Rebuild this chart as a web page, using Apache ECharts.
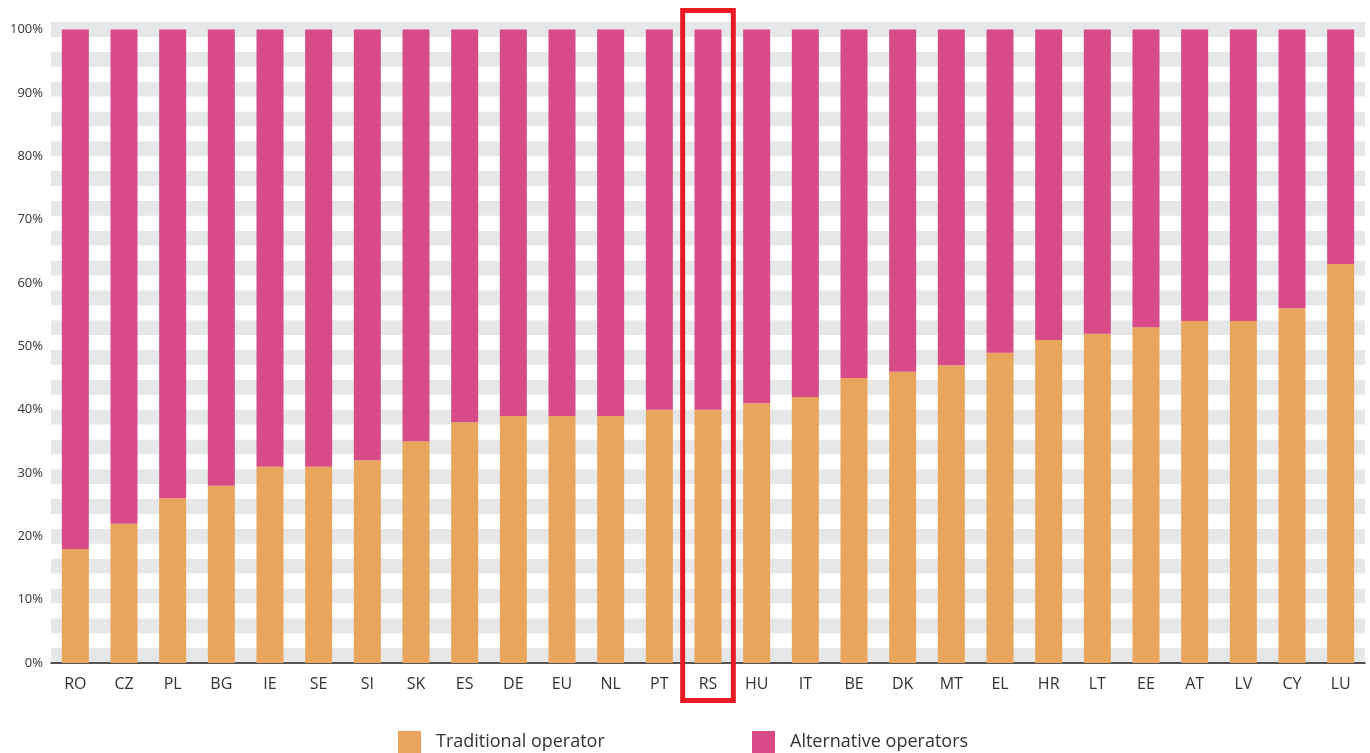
<!DOCTYPE html>
<html>
<head>
<meta charset="utf-8">
<title>Traditional vs alternative operators</title>
<script src="https://cdn.jsdelivr.net/npm/echarts@6/dist/echarts.min.js"></script>
<style>
  html, body { margin: 0; padding: 0; background: #ffffff; }
  #chart { width: 1370px; height: 753px; }
</style>
</head>
<body>
<div id="chart"></div>
<script>
// Countries, ordered by the traditional operator's share
const countries = ['RO', 'CZ', 'PL', 'BG', 'IE', 'SE', 'SI', 'SK', 'ES', 'DE', 'EU', 'NL', 'PT', 'RS',
  'HU', 'IT', 'BE', 'DK', 'MT', 'EL', 'HR', 'LT', 'EE', 'AT', 'LV', 'CY', 'LU'];

// Market share of the traditional operator (%)
const traditional = [18, 22, 26, 28, 31, 31, 32, 35, 38, 39, 39, 39, 40, 40,
  41, 42, 45, 46, 47, 49, 51, 52, 53, 54, 54, 56, 63];

// Market share of alternative operators (%)
const alternative = [82, 78, 74, 72, 69, 69, 68, 65, 62, 61, 61, 61, 60, 60,
  59, 58, 55, 54, 53, 51, 49, 48, 47, 46, 46, 44, 37];

// Value axis tick labels
const yTicks = [0, 10, 20, 30, 40, 50, 60, 70, 80, 90, 100];

const seriesNames = ['Traditional operator', 'Alternative operators'];
const highlighted = 'RS';

const ORANGE = '#e9a55c';
const PINK = '#d84b89';
const STRIPE = '#e6e7e9';
const FONT = 'Open Sans';

const chart = echarts.init(document.getElementById('chart'), null, { renderer: 'canvas' });

const legendText = { fontFamily: FONT, fontSize: 18, color: '#333333', padding: [0, 0, 0, 10] };

chart.setOption({
  animation: false,
  backgroundColor: '#ffffff',
  grid: { left: 51, right: 5, top: 22, bottom: 90, containLabel: false },
  legend: [
    {
      data: [seriesNames[0]], left: 398, top: 731, padding: 0,
      itemWidth: 23, itemHeight: 22, icon: 'rect',
      textStyle: legendText
    },
    {
      data: [seriesNames[1]], left: 752, top: 731, padding: 0,
      itemWidth: 23, itemHeight: 22, icon: 'rect',
      textStyle: legendText
    }
  ],
  xAxis: {
    type: 'category',
    data: countries,
    axisLine: { show: true, lineStyle: { color: '#231f20', width: 1.5 } },
    axisTick: { show: false },
    axisLabel: { fontFamily: FONT, fontSize: 16, color: '#333333', margin: 13 },
    splitLine: { show: false }
  },
  yAxis: [
    {
      type: 'value',
      min: 0,
      max: 101.2,
      interval: 10,
      axisLine: { show: false },
      axisTick: { show: false },
      splitLine: { show: false },
      axisLabel: {
        fontFamily: FONT, fontSize: 13, color: '#333333', margin: 8,
        formatter: v => (yTicks.indexOf(Math.round(v * 1000) / 1000) >= 0 ? v + '%' : '')
      }
    },
    {
      // background stripes
      type: 'value',
      min: 0,
      max: 43,
      interval: 1,
      position: 'right',
      axisLine: { show: false },
      axisTick: { show: false },
      axisLabel: { show: false },
      splitLine: { show: false },
      splitArea: { show: true, areaStyle: { color: [STRIPE, '#ffffff'] } }
    }
  ],
  series: [
    {
      name: seriesNames[0],
      type: 'bar',
      stack: 'share',
      barWidth: 27,
      itemStyle: { color: ORANGE },
      data: traditional
    },
    {
      name: seriesNames[1],
      type: 'bar',
      stack: 'share',
      barWidth: 27,
      itemStyle: { color: PINK },
      data: alternative
    }
  ]
});

// Red frame around the highlighted country, placed from the axis scales
function drawFrame() {
  const idx = countries.indexOf(highlighted);
  const cx = chart.convertToPixel({ xAxisIndex: 0 }, idx);
  const step = chart.convertToPixel({ xAxisIndex: 0 }, idx + 1) - cx;
  const yTop = chart.convertToPixel({ yAxisIndex: 0 }, 100);
  const yBase = chart.convertToPixel({ yAxisIndex: 0 }, 0);
  const w = step + 2;
  chart.setOption({
    graphic: [{
      type: 'rect',
      z: 100,
      shape: { x: cx - w / 2, y: yTop - 19, width: w, height: (yBase + 37.5) - (yTop - 19) },
      style: { fill: 'none', stroke: '#ed1c24', lineWidth: 5 }
    }]
  });
}
drawFrame();
</script>
</body>
</html>
